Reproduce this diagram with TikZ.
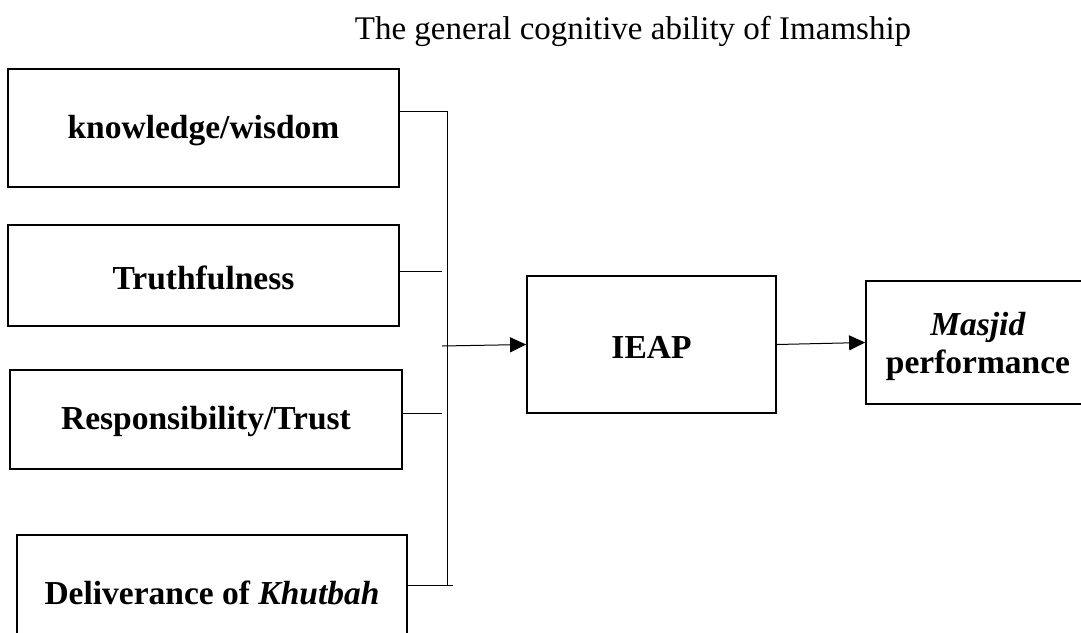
\documentclass[tikz,border=0pt]{standalone}
\usepackage{fontspec}
\setmainfont{Liberation Serif}
\usetikzlibrary{arrows.meta}
\newcommand{\dn}[2]{\raisebox{-#1}[\height][\depth]{#2}}
\begin{document}
\begin{tikzpicture}[x=1pt,y=-1pt,
  box/.style={draw, line width=1.8pt, inner sep=0pt, align=center,
    font=\fontsize{33.5}{38}\selectfont\bfseries},
  conn/.style={line width=1pt},
  arr/.style={line width=1pt, -{Triangle[length=16pt,width=15pt]}}]
\useasboundingbox (0,0) rectangle (1081,632);
\clip (0,0) rectangle (1081,632);
\node[font=\fontsize{33}{38}\selectfont] (title) at (633,31) {The general cognitive ability of Imamship};
\node[box, minimum width=391pt, minimum height=118pt] (b1) at (203.5,128) {\dn{3pt}{knowledge/wisdom}};
\node[box, minimum width=391pt, minimum height=101pt] (b2) at (203.5,275.5) {\dn{2pt}{Truthfulness}};
\node[box, minimum width=392pt, minimum height=99pt] (b3) at (206,419.5) {\dn{2pt}{Responsibility/Trust}};
\node[box, minimum width=390pt, minimum height=115pt] (b4) at (212,592.5) {Deliverance of \textit{Khutbah}};
\node[box, minimum width=249pt, minimum height=137pt] (ieap) at (651.5,344.5) {\dn{3pt}{IEAP}};
\node[box, minimum width=224pt, minimum height=123pt] (masjid) at (978,342.5) {\dn{4pt}{\textit{Masjid}}\\\dn{4pt}{performance}};
\coordinate (bt) at (447,111);
\coordinate (bb) at (447,585);
\coordinate (t2) at (442,271);
\coordinate (t3) at (442,413);
\coordinate (t4) at (453,585);
\coordinate (bin) at (442,346);
\draw[conn] (b1.east|-bt) -- (bt) -- (bb);
\draw[conn] (b2.east|-t2) -- (t2);
\draw[conn] (b3.east|-t3) -- (t3);
\draw[conn] (b4.east|-t4) -- (t4);
\draw[arr] (bin) -- (ieap.west);
\draw[arr] (ieap.east) -- (masjid.west);
\end{tikzpicture}
\end{document}
